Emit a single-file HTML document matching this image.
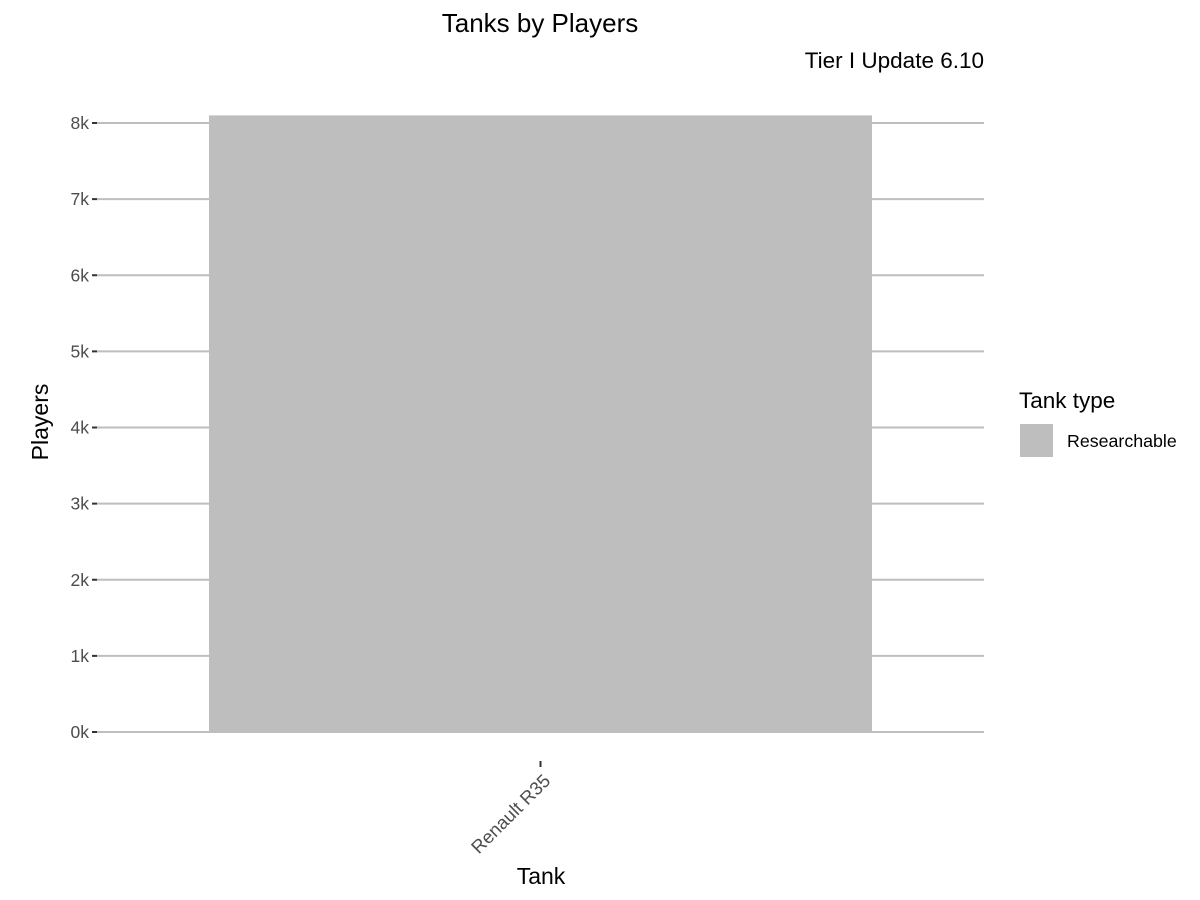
<!DOCTYPE html>
<html><head><meta charset="utf-8"><style>body{margin:0;background:#fff}svg{display:block;font-family:"Liberation Sans",Arial,sans-serif}</style></head>
<body>
<svg id="chart" width="1200" height="900">
<text x="540" y="32" font-size="26" text-anchor="middle" fill="#000">Tanks by Players</text>
<text x="984" y="68" font-size="22.5" text-anchor="end" fill="#000">Tier I Update 6.10</text>
<g id="grid"></g><g id="bars"></g><g id="yaxis"></g><g id="xaxis"></g>
<text x="541" y="884" font-size="23" text-anchor="middle" fill="#000">Tank</text>
<text transform="translate(48,422) rotate(-90)" font-size="23" text-anchor="middle" fill="#000">Players</text>
<text x="1019" y="408" font-size="22.5" fill="#000">Tank type</text>
<rect x="1020" y="424" width="33" height="33" fill="#bebebe"/>
<text x="1067" y="447" font-size="17.8" fill="#000">Researchable</text>
</svg>
<script>
const categories = ["Renault R35"];
const players = [8100];
const yTicks = [0,1000,2000,3000,4000,5000,6000,7000,8000];
const yTickLabels = ["0k","1k","2k","3k","4k","5k","6k","7k","8k"];
const NS="http://www.w3.org/2000/svg";
const y = v => 732 - v*(732-123)/8000;
const x0=97, x1=984, band=(x1-x0)/categories.length;
const xc = i => x0 + band*(i+0.5) - 0;
function mk(t,a,p){const e=document.createElementNS(NS,t);for(const k in a)e.setAttribute(k,a[k]);p.appendChild(e);return e;}
const grid=document.getElementById('grid'),bars=document.getElementById('bars'),ya=document.getElementById('yaxis'),xa=document.getElementById('xaxis');
yTicks.forEach((t,i)=>{
  const g=mk('line',{x1:x0,x2:x1,y1:y(t),y2:y(t),stroke:'#bebebe','stroke-width':2},grid);
  
  
  const tk=mk('line',{x1:92,x2:97,y1:y(t),y2:y(t),stroke:'#333','stroke-width':2},ya);
  
  
  const tx=mk('text',{x:89,y:y(t)+6,'font-size':17.5,'text-anchor':'end',fill:'#4d4d4d'},ya);
  tx.textContent=yTickLabels[i];
  
  
});
categories.forEach((c,i)=>{
  const w=band*0.7475, cx=xc(i);
  const r=mk('rect',{x:cx-w/2,y:y(players[i]),width:w,height:y(0)-y(players[i]),fill:'#bebebe'},bars);
  
  
  const tk=mk('line',{x1:cx,x2:cx,y1:761,y2:767,stroke:'#333','stroke-width':2},xa);
  
  
  const tx=mk('text',{transform:`translate(${cx+11},${782}) rotate(-45)`,'font-size':18.5,'text-anchor':'end',fill:'#4d4d4d'},xa);
  tx.textContent=c;
  
  
});
</script>
</body></html>
